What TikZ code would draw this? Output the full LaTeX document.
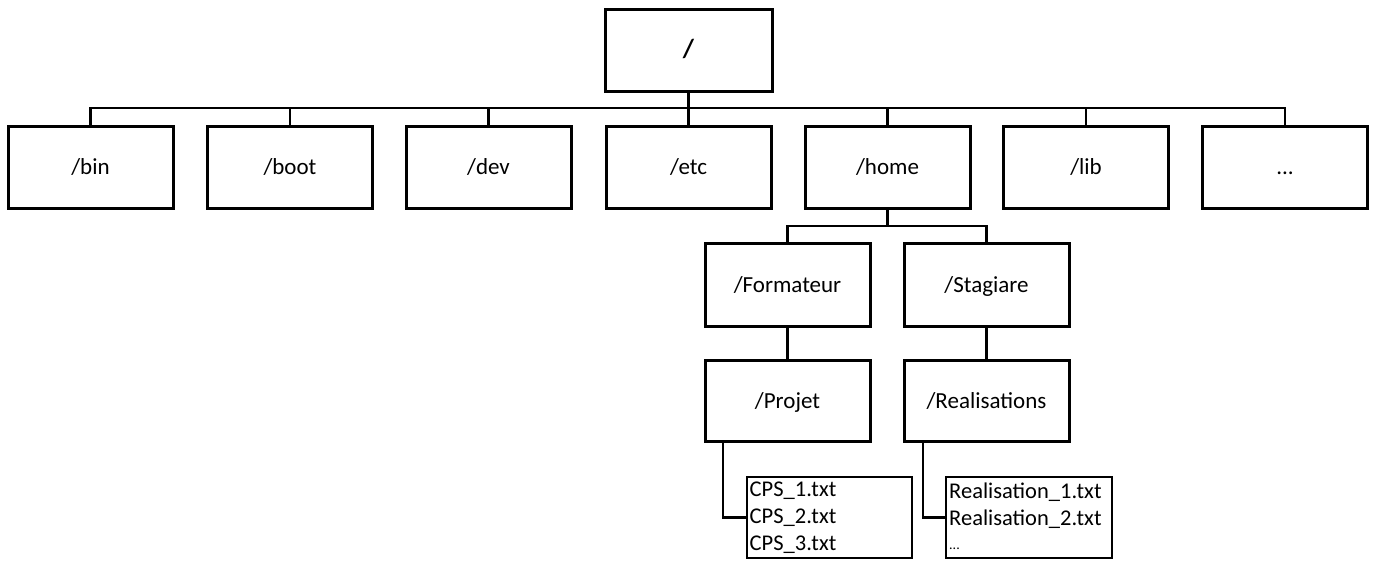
\documentclass[tikz,border=0pt]{standalone}
\usepackage{fontspec}
\setmainfont{Carlito}
\begin{document}
\begin{tikzpicture}[x=1pt,y=-1pt,
  dirbox/.style={draw, line width=3pt, minimum width=165pt, minimum height=82pt, inner sep=0pt, text height=18pt, text depth=3pt, font=\fontsize{23}{27}\selectfont},
  filebox/.style={draw, line width=2.4pt, minimum width=166pt, minimum height=81pt, text width=160pt, align=left, inner sep=2pt, anchor=north west, font=\fontsize{22.5}{27}\selectfont},
  link/.style={line width=2.6pt}]
\useasboundingbox (0,0) rectangle (1375,560);
\node[dirbox, minimum width=167pt] (root) at (688.5,50) {\fontsize{26}{27}\selectfont\textbf{/}};
\node[dirbox] (bin) at (90.5,167) {/bin};
\node[dirbox] (boot) at (290,167) {/boot};
\node[dirbox] (dev) at (488.5,167) {/dev};
\node[dirbox] (etc) at (688.5,167) {/etc};
\node[dirbox] (home) at (887.5,167) {/home};
\node[dirbox] (lib) at (1086,167) {/lib};
\node[dirbox] (dots) at (1285,167) {...};
\node[dirbox, minimum height=83pt] (form) at (787.5,284.5) {/Formateur};
\node[dirbox, minimum height=83pt] (stag) at (986.5,284.5) {/Stagiare};
\node[dirbox, minimum height=81pt] (proj) at (787.5,400.5) {/Projet};
\node[dirbox, minimum height=81pt] (real) at (986.5,400.5) {/Realisations};
\node[filebox, minimum width=165pt] (cps) at (746,476) {CPS\_1.txt\\CPS\_2.txt\\CPS\_3.txt};
\node[filebox] (rfiles) at (945,476) {Realisation\_1.txt\\Realisation\_2.txt\\\raisebox{3pt}{\fontsize{14}{14}\selectfont ...}};
\coordinate (bus) at (0,108);
\coordinate (hbus) at (0,226);
\draw[link] (bin.north) |- (bus -| dots.north) -- (dots.north);
\foreach \n in {boot,dev,etc,home,lib} \draw[link] (\n.north) -- (\n.north |- bus);
\draw[link] (root.south) -- (root.south |- bus);
\draw[link] (home.south) -- (home.south |- hbus);
\draw[link] (form.north) |- (hbus -| stag.north) -- (stag.north);
\draw[link] (form.south) -- (proj.north);
\draw[link] (stag.south) -- (real.north);
\draw[link] ([xshift=-64.5pt]proj.south) |- (cps.west);
\draw[link] ([xshift=-63.5pt]real.south) |- (rfiles.west);
\end{tikzpicture}
\end{document}
